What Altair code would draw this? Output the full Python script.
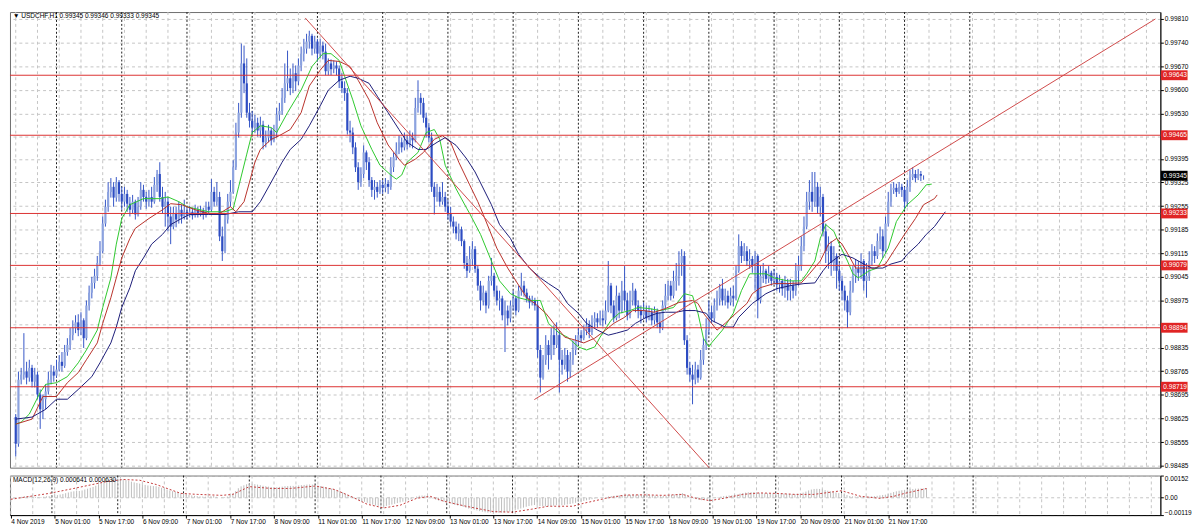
import altair as alt
import pandas as pd

# ---------------- data (prices in 1e-5 units, i.e. 99345 -> 0.99345) ----------------
first_open = 98629
close_pts = [
 98550, 98740, 98755, 98764, 98746, 98775, 98734, 98755, 98696, 98652, 98682, 98705, 98740, 98764, 98752,
 98770, 98793, 98781, 98822, 98843, 98872, 98893, 98910, 98887, 98916, 98863, 98960, 98998, 99027, 99048, 99086, 99121, 99203, 99253, 99297, 99312, 99280, 99326, 99291,
 99268, 99291, 99262, 99244, 99268, 99230, 99253, 99303, 99282, 99268, 99282, 99268, 99318, 99350, 99282, 99253, 99268, 99224, 99194, 99233, 99215, 99244, 99224, 99238,
 99230, 99238, 99227, 99244, 99233, 99241, 99230, 99253, 99244, 99297, 99268, 99282, 99165, 99121, 99215, 99268, 99297, 99370, 99473, 99532, 99678, 99619, 99532, 99508,
 99488, 99502, 99479, 99496, 99444, 99458, 99479, 99450, 99473, 99526, 99537, 99576, 99619, 99634, 99605, 99649, 99625, 99672, 99707, 99722, 99743, 99760, 99722, 99743,
 99707, 99731, 99713, 99655, 99678, 99661, 99672, 99663, 99625, 99605, 99590, 99479, 99473, 99429, 99370, 99326, 99350, 99414, 99385, 99332, 99303, 99312, 99297, 99318,
 99309, 99321, 99312, 99370, 99400, 99420, 99444, 99429, 99450, 99438, 99458, 99450, 99546, 99576, 99561, 99517, 99488, 99458, 99312, 99282, 99297, 99268, 99282, 99253,
 99233, 99209, 99194, 99174, 99186, 99151, 99086, 99063, 99098, 99127, 99069, 99019, 98975, 98998, 98960, 99033, 99048, 99004, 98975, 98981, 98931, 98945, 98922, 98960,
 98981, 98945, 99004, 99019, 98998, 98981, 98969, 98975, 98960, 98828, 98746, 98799, 98843, 98813, 98872, 98843, 98872, 98799, 98784, 98813, 98764, 98799, 98828, 98857,
 98872, 98863, 98887, 98901, 98881, 98910, 98922, 98910, 98922, 98916, 98945, 99019, 98960, 98922, 98989, 98945, 99004, 98975, 98931, 98975, 99004, 98960, 98945, 98931,
 98945, 98922, 98940, 98916, 98940, 98910, 98893, 98960, 98989, 99019, 98989, 99033, 99048, 99086, 99107, 98857, 98775, 98755, 98740, 98770, 98746, 98799, 98843, 98887,
 98940, 98922, 98960, 98981, 99010, 98975, 98989, 98969, 98989, 98981, 99063, 99136, 99107, 99121, 99092, 99098, 99077, 99107, 98975, 99048, 99063, 99039, 99057, 99033,
 99045, 99022, 99033, 99010, 99027, 99004, 99019, 99004, 99063, 99077, 99136, 99194, 99268, 99297, 99268, 99312, 99253, 99282, 99180, 99121, 99136, 99086, 99107, 99063,
 99033, 99004, 98975, 98940, 99004, 99048, 99069, 99057, 99092, 99033, 99048, 99092, 99121, 99107, 99151, 99165, 99121, 99203, 99268, 99303, 99309, 99297, 99312, 99303,
 99268, 99312, 99341, 99350, 99338, 99350, 99345, 99345]
high_pts = [
 98638, 98764, 98775, 98878, 98793, 98799, 98784, 98775, 98764, 98711, 98696, 98726, 98764, 98784, 98781,
 98799, 98813, 98822, 98843, 98863, 98893, 98916, 98931, 98934, 98940, 98922, 98975, 99019, 99045, 99069, 99107, 99151, 99224, 99274, 99326, 99338, 99326, 99341, 99332,
 99312, 99312, 99303, 99282, 99288, 99274, 99282, 99326, 99318, 99297, 99303, 99312, 99341, 99362, 99385, 99312, 99297, 99282, 99253, 99253, 99253, 99268, 99259, 99274,
 99253, 99256, 99250, 99259, 99253, 99256, 99250, 99268, 99268, 99335, 99312, 99326, 99297, 99194, 99233, 99291, 99332, 99391, 99502, 99561, 99737, 99731, 99693, 99561,
 99537, 99526, 99517, 99520, 99508, 99479, 99496, 99487, 99496, 99546, 99561, 99605, 99678, 99716, 99663, 99678, 99672, 99693, 99728, 99751, 99766, 99775, 99766, 99760,
 99751, 99751, 99743, 99737, 99693, 99690, 99687, 99684, 99672, 99649, 99625, 99605, 99508, 99488, 99444, 99385, 99370, 99435, 99420, 99400, 99341, 99332, 99326, 99332,
 99332, 99338, 99332, 99400, 99414, 99444, 99464, 99458, 99473, 99467, 99479, 99473, 99576, 99628, 99590, 99576, 99532, 99502, 99473, 99326, 99321, 99312, 99326, 99297,
 99274, 99253, 99224, 99209, 99203, 99194, 99156, 99107, 99136, 99151, 99136, 99077, 99033, 99019, 99004, 99048, 99101, 99057, 99019, 99004, 98989, 98975, 98960, 98975,
 99004, 98989, 99019, 99057, 99033, 99010, 98989, 98989, 98983, 98975, 98843, 98813, 98872, 98857, 98893, 98901, 98910, 98887, 98828, 98834, 98828, 98822, 98857, 98872,
 98893, 98887, 98901, 98922, 98916, 98931, 98940, 98937, 98945, 98945, 98975, 99092, 99027, 98975, 99019, 98998, 99033, 99077, 98998, 99004, 99027, 99010, 98975, 98960,
 98969, 98960, 98960, 98951, 98957, 98951, 98940, 98975, 99024, 99033, 99033, 99063, 99086, 99121, 99127, 99121, 98872, 98793, 98784, 98793, 98784, 98828, 98863, 98922,
 98975, 98960, 98981, 99004, 99024, 99039, 99010, 99004, 99013, 99019, 99077, 99171, 99151, 99145, 99136, 99127, 99107, 99121, 99112, 99077, 99086, 99069, 99077, 99063,
 99069, 99057, 99051, 99039, 99048, 99039, 99039, 99033, 99086, 99107, 99165, 99224, 99297, 99332, 99356, 99356, 99326, 99312, 99291, 99203, 99165, 99151, 99136, 99115,
 99086, 99048, 99019, 98989, 99033, 99077, 99098, 99092, 99115, 99098, 99086, 99121, 99142, 99136, 99174, 99194, 99186, 99224, 99297, 99321, 99326, 99321, 99326, 99321,
 99312, 99332, 99362, 99370, 99362, 99365, 99359, 99346]
low_pts = [
 98512, 98541, 98726, 98740, 98726, 98734, 98717, 98717, 98682, 98594, 98623, 98652, 98696, 98726, 98734,
 98746, 98764, 98764, 98775, 98811, 98828, 98857, 98878, 98869, 98872, 98834, 98857, 98945, 98981, 99010, 99033, 99077, 99115, 99194, 99238, 99280, 99253, 99268, 99268,
 99244, 99253, 99238, 99224, 99233, 99215, 99224, 99244, 99268, 99247, 99253, 99250, 99262, 99297, 99268, 99233, 99194, 99180, 99142, 99186, 99192, 99203, 99203, 99215,
 99215, 99221, 99215, 99221, 99221, 99224, 99215, 99221, 99230, 99238, 99253, 99256, 99151, 99092, 99115, 99203, 99253, 99291, 99362, 99458, 99517, 99590, 99517, 99488,
 99467, 99473, 99461, 99458, 99423, 99429, 99444, 99435, 99444, 99458, 99508, 99526, 99561, 99596, 99584, 99590, 99596, 99614, 99655, 99684, 99707, 99722, 99702, 99707,
 99684, 99693, 99690, 99643, 99643, 99643, 99649, 99643, 99605, 99590, 99567, 99467, 99444, 99409, 99356, 99303, 99312, 99338, 99362, 99312, 99282, 99274, 99280, 99291,
 99291, 99297, 99291, 99303, 99356, 99391, 99409, 99414, 99420, 99423, 99429, 99426, 99444, 99532, 99526, 99502, 99458, 99444, 99297, 99230, 99268, 99253, 99259, 99238,
 99215, 99194, 99174, 99156, 99151, 99136, 99069, 99042, 99057, 99077, 99057, 99004, 98945, 98960, 98937, 98951, 99019, 98986, 98960, 98945, 98916, 98822, 98901, 98910,
 98945, 98931, 98940, 98989, 98986, 98969, 98951, 98960, 98945, 98805, 98702, 98740, 98784, 98770, 98799, 98813, 98834, 98702, 98755, 98770, 98734, 98746, 98784, 98813,
 98843, 98849, 98857, 98872, 98863, 98872, 98893, 98893, 98901, 98898, 98904, 98940, 98937, 98910, 98916, 98922, 98937, 98945, 98916, 98922, 98960, 98940, 98922, 98907,
 98922, 98910, 98916, 98901, 98904, 98893, 98878, 98887, 98945, 98975, 98975, 98981, 99004, 99019, 99048, 98843, 98755, 98734, 98667, 98726, 98731, 98740, 98784, 98828,
 98872, 98907, 98910, 98945, 98960, 98960, 98960, 98951, 98960, 98957, 98975, 99057, 99086, 99092, 99077, 99069, 99057, 99004, 98922, 98966, 99027, 99024, 99027, 99019,
 99022, 99004, 98998, 98989, 98983, 98975, 98975, 98981, 98989, 99019, 99063, 99121, 99186, 99244, 99238, 99253, 99233, 99224, 99165, 99086, 99069, 99048, 99063, 99010,
 99004, 98975, 98945, 98893, 98931, 98998, 99027, 99033, 99039, 99004, 98983, 99033, 99077, 99086, 99098, 99127, 99101, 99115, 99194, 99253, 99291, 99282, 99291, 99282,
 99244, 99253, 99297, 99332, 99326, 99332, 99329, 99333]

# MACD main (1e-6 units), one value per bar
macd_e6 = [
 -120, -60, 0, 40, 60, 90, 100, 110, 90, 60, 50, 50, 70, 100, 110,
 130, 160, 180, 220, 260, 310, 360, 410, 440, 470, 460, 500, 560, 620, 680, 740, 820, 920, 1020, 1110, 1190, 1240, 1290, 1310,
 1320, 1300, 1260, 1210, 1160, 1100, 1050, 1010, 970, 920, 880, 840, 820, 800, 790, 740, 680, 620, 560, 500, 450, 400, 350, 300,
 260, 220, 190, 160, 130, 110, 90, 80, 70, 100, 110, 120, 60, 0, 20, 50, 80, 160, 300, 450, 650, 780, 850, 920,
 960, 950, 930, 900, 860, 820, 790, 760, 730, 720, 720, 740, 760, 790, 800, 810, 810, 820, 840, 860, 880, 900, 910, 900,
 870, 840, 800, 760, 720, 670, 620, 570, 510, 450, 380, 280, 190, 100, 0, -90, -170, -230, -280, -350, -420, -480, -530, -560,
 -600, -580, -560, -520, -470, -420, -370, -320, -270, -220, -170, -120, -20, 80, 140, 150, 140, 110, 20, -60, -130, -190, -240, -290,
 -340, -390, -440, -490, -530, -570, -630, -690, -740, -780, -820, -870, -920, -960, -1000, -1020, -1030, -1040, -1040, -1030, -1030, -1010, -990, -950,
 -910, -860, -800, -740, -680, -620, -570, -530, -500, -520, -570, -590, -590, -580, -560, -540, -510, -510, -510, -490, -460, -430, -390, -350,
 -300, -260, -220, -180, -140, -100, -60, -30, 0, 20, 40, 90, 120, 130, 150, 160, 170, 190, 200, 200, 210, 210, 210, 200,
 200, 190, 180, 160, 150, 130, 110, 120, 140, 170, 190, 220, 250, 280, 310, 230, 130, 40, -40, -100, -150, -170, -160, -120,
 -70, -30, 0, 40, 80, 110, 130, 150, 170, 180, 220, 280, 320, 350, 370, 380, 380, 370, 330, 320, 310, 300, 300, 300,
 300, 300, 290, 280, 270, 260, 250, 250, 270, 300, 350, 420, 500, 560, 600, 610, 600, 570, 520, 480, 440, 400, 360, 320,
 280, 230, 180, 120, 90, 80, 80, 80, 90, 80, 80, 90, 110, 130, 160, 190, 210, 260, 330, 390, 440, 480, 510, 540,
 560, 580, 600, 620, 630, 635, 640, 641]

# MACD signal line, sampled (bar index, 1e-6 units)
sig_idx = [0, 14, 23, 35, 41, 47, 53, 62, 68, 77, 81, 87, 95, 102, 111, 118, 124, 130, 136, 142, 148, 153, 158, 166, 176,
           183, 190, 196, 205, 209, 217, 224, 231, 238, 245, 250, 255, 260, 267, 273, 279, 286, 293, 303, 310, 317, 322, 326, 334]
sig_e6 = [-108, 298, 637, 1111, 1250, 1200, 908, 298, 230, 163, 230, 760, 637, 637, 800, 569, 95, -447, -700, -515, -41, 95, -244, -583, -950,
          -990, -786, -583, -583, -379, -41, 180, 200, 163, 230, -41, -200, -41, 230, 330, 298, 230, 230, 480, 95, -41, 95, 298, 630]

# Moving averages, sampled (bar index, price 1e-5 units)
green_idx = [0, 2, 5, 9, 11, 15, 19, 23, 26, 30, 32, 35, 37, 39, 42, 47, 53, 56, 60, 63, 71, 77, 80, 82, 85, 87, 90, 94, 96, 100,
             105, 109, 113, 116, 119, 121, 124, 127, 131, 134, 138, 140, 142, 144, 148, 151, 154, 156, 158, 162, 166, 167, 171, 175, 178,
             182, 185, 189, 193, 196, 200, 203, 207, 210, 213, 215, 219, 222, 226, 229, 233, 237, 242, 246, 249, 251, 253, 255, 256, 260,
             264, 267, 270, 272, 276, 279, 284, 289, 291, 294, 296, 298, 301, 303, 306, 308, 310, 314, 317, 321, 324, 328, 332, 335, 337]
green_pts = [98608, 98614, 98638, 98702, 98726, 98731, 98749, 98790, 98828, 98887, 98954, 99042, 99142, 99218, 99259, 99277, 99277, 99282, 99268, 99253,
             99238, 99238, 99247, 99312, 99409, 99473, 99493, 99488, 99473, 99532, 99599, 99669, 99707, 99707, 99687, 99640, 99570, 99493, 99423, 99376,
             99347, 99335, 99347, 99385, 99414, 99473, 99482, 99453, 99376, 99306, 99247, 99233, 99171, 99092, 99033, 98995, 98983, 98975, 98975, 98907,
             98878, 98866, 98837, 98828, 98837, 98866, 98916, 98937, 98945, 98954, 98951, 98945, 98954, 98995, 98989, 98937, 98863, 98837, 98849, 98887,
             98937, 99004, 99054, 99054, 99054, 99042, 99033, 99033, 99054, 99092, 99159, 99200, 99180, 99142, 99092, 99054, 99042, 99063, 99071, 99130,
             99209, 99259, 99288, 99318, 99320]
red_idx = [0, 6, 10, 15, 19, 23, 26, 30, 32, 35, 37, 39, 42, 44, 49, 54, 57, 61, 66, 71, 75, 79, 81, 84, 86, 88, 90, 94, 97, 101,
           105, 108, 112, 115, 119, 123, 126, 130, 133, 137, 141, 143, 147, 150, 154, 157, 160, 163, 167, 170, 172, 177, 181, 184, 188,
           191, 195, 199, 202, 206, 209, 213, 217, 220, 224, 227, 231, 235, 239, 244, 249, 251, 253, 256, 258, 261, 265, 269, 271, 274,
           279, 284, 289, 292, 296, 299, 302, 304, 307, 309, 313, 316, 320, 323, 327, 331, 334, 338, 339]
red_pts = [98608, 98623, 98690, 98690, 98731, 98761, 98799, 98849, 98907, 98983, 99042, 99101, 99159, 99189, 99218, 99244, 99262, 99259, 99244, 99233,
           99233, 99253, 99238, 99268, 99326, 99385, 99423, 99453, 99464, 99482, 99532, 99611, 99658, 99687, 99684, 99669, 99628, 99570, 99502, 99436,
           99394, 99376, 99394, 99414, 99453, 99464, 99444, 99385, 99318, 99268, 99230, 99130, 99071, 99033, 98983, 98966, 98937, 98896, 98866, 98857,
           98849, 98863, 98887, 98907, 98925, 98945, 98945, 98940, 98951, 98969, 98975, 98966, 98937, 98907, 98887, 98907, 98937, 98966, 98995, 99013,
           99025, 99025, 99027, 99054, 99092, 99142, 99159, 99142, 99101, 99071, 99071, 99071, 99083, 99121, 99171, 99218, 99259, 99277, 99288]
blue_idx = [0, 6, 11, 15, 19, 23, 28, 31, 35, 37, 39, 42, 44, 47, 50, 54, 57, 61, 64, 71, 77, 82, 87, 90, 94, 98, 101, 105, 108, 112,
            115, 119, 123, 126, 130, 133, 137, 141, 144, 148, 151, 155, 158, 162, 166, 169, 175, 178, 182, 185, 189, 193, 196, 200, 203,
            207, 210, 214, 218, 221, 225, 228, 232, 236, 239, 243, 246, 250, 254, 256, 261, 264, 266, 271, 276, 280, 285, 290, 294, 297,
            299, 302, 304, 308, 312, 315, 319, 322, 326, 328, 332, 335, 338, 342]
blue_pts = [98623, 98629, 98652, 98682, 98682, 98711, 98749, 98790, 98849, 98896, 98954, 99013, 99063, 99101, 99142, 99171, 99200, 99218, 99230, 99230,
            99230, 99238, 99238, 99268, 99326, 99385, 99423, 99453, 99493, 99552, 99599, 99628, 99640, 99634, 99619, 99581, 99532, 99482, 99444, 99423,
            99423, 99444, 99458, 99435, 99394, 99356, 99259, 99200, 99159, 99112, 99071, 99042, 99025, 99004, 98966, 98937, 98907, 98887, 98872, 98878,
            98887, 98907, 98925, 98937, 98940, 98940, 98945, 98945, 98937, 98916, 98896, 98896, 98925, 98966, 98995, 99010, 99019, 99025, 99027, 99063,
            99083, 99101, 99112, 99101, 99083, 99071, 99071, 99083, 99092, 99112, 99142, 99171, 99194, 99238]

level_prices = [0.99643, 0.99465, 0.99233, 0.99079, 0.98894, 0.98719]
current_price = 0.99345
price_ticks = [0.99810, 0.99740, 0.99670, 0.99600, 0.99530, 0.99460, 0.99395, 0.99325, 0.99255, 0.99185, 0.99115,
               0.99045, 0.98975, 0.98905, 0.98835, 0.98765, 0.98695, 0.98625, 0.98555, 0.98485]
hidden_ticks = [0.99460, 0.98905]   # covered by the red level labels
macd_ticks = [0.00152, 0.0, -0.00119]
time_labels = ['4 Nov 2019', '5 Nov 01:00', '5 Nov 17:00', '6 Nov 09:00', '7 Nov 01:00', '7 Nov 17:00', '8 Nov 09:00',
               '11 Nov 01:00', '11 Nov 17:00', '12 Nov 09:00', '13 Nov 01:00', '13 Nov 17:00', '14 Nov 09:00', '15 Nov 01:00',
               '15 Nov 17:00', '18 Nov 09:00', '19 Nov 01:00', '19 Nov 17:00', '20 Nov 09:00', '21 Nov 01:00', '21 Nov 17:00']
label_step = 16
grid_step = 8
day_start_bar = 15
bars_per_day = 24
day_lines = 15
trend_lines = [
    ("down", 106.5, 0.99813), ("down", 255.4, 0.98476),
    ("up", 190.8, 0.98681), ("up", 419.3, 0.99810),
]
title_text = "\u25bc USDCHF,H1  0.99345 0.99346 0.99333 0.99345"
macd_text = "MACD(12,26,9) 0.000641 0.000630"

# ---------------- tables ----------------
n = len(close_pts)
assert len(high_pts) == n and len(low_pts) == n and len(macd_e6) == n, (n, len(high_pts), len(low_pts), len(macd_e6))
opens = [first_open] + close_pts[:-1]
rows = []
for i in range(n):
    o, c = opens[i], close_pts[i]
    h = max(high_pts[i], o, c)
    l = min(low_pts[i], o, c)
    rows.append(dict(i=i, o=o / 1e5, c=c / 1e5, h=h / 1e5, l=l / 1e5,
                     d="up" if c >= o else "down", m=macd_e6[i] / 1e6, z=0.0))
bars = pd.DataFrame(rows)


def ma_frame(idx, pts):
    assert len(idx) == len(pts)
    return pd.DataFrame(dict(i=idx, p=[v / 1e5 for v in pts]))


assert len(sig_idx) == len(sig_e6)
sig = pd.DataFrame(dict(i=sig_idx, s=[v / 1e6 for v in sig_e6]))
grid_v = pd.DataFrame(dict(i=list(range(0, 420, grid_step))))
days = pd.DataFrame(dict(i=[day_start_bar + bars_per_day * k for k in range(day_lines)]))
levels = pd.DataFrame(dict(p=level_prices, lab=[f"{v:.5f}" for v in level_prices]))
cur = pd.DataFrame(dict(p=[current_price], lab=[f"{current_price:.5f}"]))
trend = pd.DataFrame(trend_lines, columns=["line", "i", "p"])
one = pd.DataFrame(dict(t=[title_text]))
one_m = pd.DataFrame(dict(t=[macd_text]))

# ---------------- chart ----------------
W, H, H2 = 1164, 461, 40
FONT = "Liberation Sans"
FS = 6.6
xs = alt.Scale(domain=[-0.3, 419.3], nice=False, zero=False)
ys = alt.Scale(domain=[0.98479, 0.998305], nice=False, zero=False)
ms = alt.Scale(domain=[-0.00119, 0.00152], nice=False, zero=False)
box = "M-1,-0.37L1,-0.37L1,0.37L-1,0.37Z"

hide_expr = " || ".join(f"abs(datum.value - {v}) < 0.000001" for v in hidden_ticks)
y_axis = alt.Axis(orient="right", values=price_ticks, labelExpr=f"({hide_expr}) ? '' : format(datum.value, '.5f')",
                  tickSize=3, labelPadding=1,
                  grid=True, gridColor="#c4c4c4", gridDash=[3, 3], labelFont=FONT, labelFontSize=FS,
                  labelColor="#000000", domainColor="#000000", tickColor="#000000", title=None)
m_axis = alt.Axis(orient="right", values=macd_ticks,
                  labelExpr="datum.value == 0 ? '0.00' : format(datum.value, '.5f')",
                  tickSize=3, labelPadding=1, labelFlush=True, grid=True, gridColor="#c4c4c4", gridDash=[3, 3],
                  labelFont=FONT, labelFontSize=FS, labelColor="#000000", domainColor="#000000", tickColor="#000000",
                  title=None)
x_axis = alt.Axis(orient="bottom", values=[k * label_step for k in range(len(time_labels))],
                  labelExpr="[" + ",".join("'" + t + "'" for t in time_labels) + "][round(datum.value/16)]",
                  labelAlign="left", labelPadding=1, tickSize=3, grid=False, labelFont=FONT, labelFontSize=FS,
                  labelColor="#000000", domainColor="#000000", tickColor="#000000", labelOverlap=False, title=None)

XM = alt.X("i:Q", scale=xs, axis=None)
YM = lambda f: alt.Y(f, scale=ys, axis=y_axis)
XB = alt.X("i:Q", scale=xs, axis=x_axis)
YB = lambda f: alt.Y(f, scale=ms, axis=m_axis)

vgrid = alt.Chart(grid_v).mark_rule(color="#c4c4c4", strokeDash=[3, 3], strokeWidth=1).encode(x=XM)
dsep = alt.Chart(days).mark_rule(color="#1e1e1e", strokeDash=[2, 2], strokeWidth=1).encode(x=XM)

wick = alt.Chart(bars).mark_rule(color="#3656c6", strokeWidth=1).encode(x=XM, y=YM("l:Q"), y2="h:Q")
body = alt.Chart(bars).mark_bar(size=2.2).encode(
    x=XM, y=YM("o:Q"), y2="c:Q",
    color=alt.condition("datum.d == 'up'", alt.value("#8ca3df"), alt.value("#2d4cc2")))
ma_g = alt.Chart(ma_frame(green_idx, green_pts)).mark_line(color="#2ec82e", strokeWidth=1, clip=True).encode(x=XM, y=YM("p:Q"))
ma_r = alt.Chart(ma_frame(red_idx, red_pts)).mark_line(color="#b8322a", strokeWidth=1, clip=True).encode(x=XM, y=YM("p:Q"))
ma_b = alt.Chart(ma_frame(blue_idx, blue_pts)).mark_line(color="#1c1c78", strokeWidth=1, clip=True).encode(x=XM, y=YM("p:Q"))
lev = alt.Chart(levels).mark_rule(color="#dc3232", strokeWidth=1).encode(y=YM("p:Q"))
trd = alt.Chart(trend).mark_line(color="#cf4a4a", strokeWidth=1, clip=True).encode(x=XM, y=YM("p:Q"), detail="line:N")
lev_box = alt.Chart(levels).mark_point(shape=box, filled=True, size=729, opacity=1, color="#e02424", strokeWidth=0).encode(
    x=alt.value(W + 14), y=YM("p:Q"))
lev_txt = alt.Chart(levels).mark_text(align="left", baseline="middle", color="white", font=FONT, fontSize=FS).encode(
    x=alt.value(W + 3), y=YM("p:Q"), text="lab:N")
cur_box = alt.Chart(cur).mark_point(shape=box, filled=True, size=729, opacity=1, color="#000000", strokeWidth=0).encode(
    x=alt.value(W + 14), y=YM("p:Q"))
cur_txt = alt.Chart(cur).mark_text(align="left", baseline="middle", color="white", font=FONT, fontSize=FS).encode(
    x=alt.value(W + 3), y=YM("p:Q"), text="lab:N")
title = alt.Chart(one).mark_text(align="left", baseline="top", font=FONT, fontSize=FS, color="#000000").encode(
    x=alt.value(3), y=alt.value(1), text="t:N")

main = alt.layer(vgrid, dsep, wick, body, ma_g, ma_r, ma_b, lev, trd, lev_box, lev_txt, cur_box, cur_txt, title
                 ).properties(width=W, height=H)

mvgrid = alt.Chart(grid_v).mark_rule(color="#c4c4c4", strokeDash=[3, 3], strokeWidth=1).encode(x=XB)
mdsep = alt.Chart(days).mark_rule(color="#1e1e1e", strokeDash=[2, 2], strokeWidth=1).encode(x=XB)
hist = alt.Chart(bars).mark_rule(color="#bdbdbd", strokeWidth=1).encode(x=XB, y=YB("m:Q"), y2="z:Q")
sigl = alt.Chart(sig).mark_line(color="#c43c3c", strokeDash=[2, 2], strokeWidth=1).encode(x=XB, y=YB("s:Q"))
mtitle = alt.Chart(one_m).mark_text(align="left", baseline="top", font=FONT, fontSize=FS, color="#000000").encode(
    x=alt.value(3), y=alt.value(2), text="t:N")
macd = alt.layer(mvgrid, mdsep, hist, sigl, mtitle).properties(width=W, height=H2)

chart = alt.vconcat(main, macd, spacing=4).properties(
    padding=0, background="white"
).configure_view(stroke="#6e6e6e", strokeWidth=1)

chart.save("out.html", embed_options={"renderer": "svg", "actions": False})
